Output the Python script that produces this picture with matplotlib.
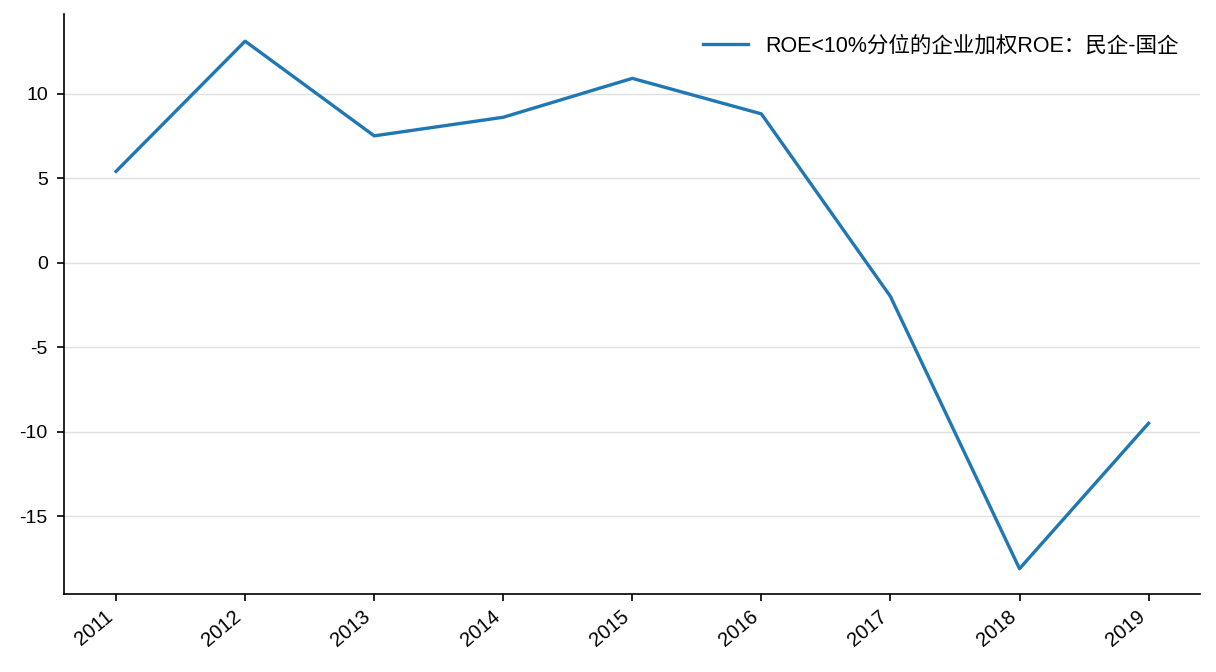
import matplotlib
matplotlib.use('Agg')
import matplotlib.pyplot as plt

plt.rcParams['font.family'] = ['Liberation Sans', 'Noto Sans CJK SC', 'DejaVu Sans']
plt.rcParams['axes.unicode_minus'] = False

years = [2011, 2012, 2013, 2014, 2015, 2016, 2017, 2018, 2019]
roe_diff = [5.4, 13.1, 7.5, 8.6, 10.9, 8.8, -2.0, -18.1, -9.5]
label = 'ROE<10%分位的企业加权ROE：民企-国企'

fig, ax = plt.subplots(figsize=(12.16, 6.72), dpi=100)
fig.subplots_adjust(left=0.053, right=0.987, top=0.979, bottom=0.116)

ax.plot(years, roe_diff, color='#1f77b4', linewidth=2.4, label=label)

ax.set_xlim(2010.6, 2019.4)
ax.set_ylim(-19.6, 14.7)
ax.set_xticks(years)
ax.set_xticklabels([str(y) for y in years], rotation=40, ha='right', fontsize=14.5)
ax.set_yticks([-15, -10, -5, 0, 5, 10])
ax.tick_params(axis='y', labelsize=14, length=5, width=1.2, pad=7)
ax.tick_params(axis='x', length=5, width=1.2, pad=4)

ax.yaxis.grid(True, color='#e0e0e0', linewidth=1)
ax.set_axisbelow(True)
for s in ['top', 'right']:
    ax.spines[s].set_visible(False)
for s in ['left', 'bottom']:
    ax.spines[s].set_linewidth(1.2)

ax.legend(loc='upper right', frameon=False, fontsize=15.5, handlelength=2.1,
          borderaxespad=0.6)

fig.savefig('out.png', dpi=100)
